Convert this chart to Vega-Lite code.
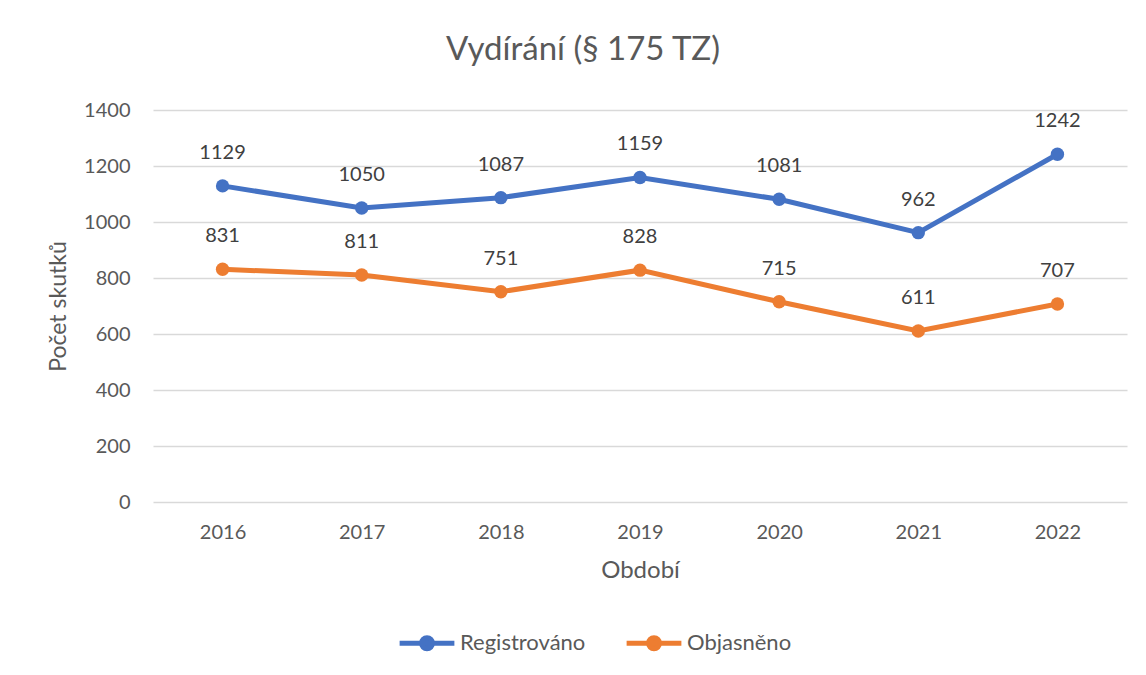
{
  "$schema": "https://vega.github.io/schema/vega-lite/v6.json",
  "width": 974,
  "height": 392,
  "autosize": {"type": "none"},
  "padding": {"left": 153, "top": 110, "right": 19, "bottom": 173},
  "background": "white",
  "title": {
    "text": "Vydírání (§ 175 TZ)",
    "anchor": "middle",
    "frame": "group",
    "offset": 33,
    "dx": -57,
    "fontSize": 33,
    "font": "Lato",
    "fontWeight": "normal",
    "color": "#595959"
  },
  "data": {
    "values": [
      {"rok": "2016", "serie": "Registrováno", "pocet": 1129},
      {"rok": "2017", "serie": "Registrováno", "pocet": 1050},
      {"rok": "2018", "serie": "Registrováno", "pocet": 1087},
      {"rok": "2019", "serie": "Registrováno", "pocet": 1159},
      {"rok": "2020", "serie": "Registrováno", "pocet": 1081},
      {"rok": "2021", "serie": "Registrováno", "pocet": 962},
      {"rok": "2022", "serie": "Registrováno", "pocet": 1242},
      {"rok": "2016", "serie": "Objasněno", "pocet": 831},
      {"rok": "2017", "serie": "Objasněno", "pocet": 811},
      {"rok": "2018", "serie": "Objasněno", "pocet": 751},
      {"rok": "2019", "serie": "Objasněno", "pocet": 828},
      {"rok": "2020", "serie": "Objasněno", "pocet": 715},
      {"rok": "2021", "serie": "Objasněno", "pocet": 611},
      {"rok": "2022", "serie": "Objasněno", "pocet": 707}
    ]
  },
  "encoding": {
    "x": {
      "field": "rok",
      "type": "ordinal",
      "scale": {"paddingInner": 0, "paddingOuter": 0.5},
      "axis": {
        "title": "Období",
        "labelAngle": 0,
        "labelFontSize": 20,
        "labelFont": "Lato",
        "labelColor": "#595959",
        "labelPadding": 20,
        "titleFontSize": 24,
        "titleFont": "Lato",
        "titleFontWeight": "normal",
        "titleColor": "#595959",
        "titlePadding": 16,
        "domain": false,
        "ticks": false,
        "grid": false
      }
    },
    "y": {
      "field": "pocet",
      "type": "quantitative",
      "scale": {"domain": [0, 1400], "nice": false},
      "axis": {
        "title": "Počet skutků",
        "format": "d",
        "values": [0, 200, 400, 600, 800, 1000, 1200, 1400],
        "labelFontSize": 20,
        "labelFont": "Lato",
        "labelColor": "#595959",
        "labelPadding": 23,
        "titleFontSize": 23,
        "titleFont": "Lato",
        "titleFontWeight": "normal",
        "titleColor": "#595959",
        "titlePadding": 13,
        "domain": false,
        "ticks": false,
        "grid": true,
        "gridColor": "#d9d9d9",
        "gridWidth": 1.5
      }
    },
    "color": {
      "field": "serie",
      "type": "nominal",
      "sort": ["Registrováno", "Objasněno"],
      "scale": {"domain": ["Registrováno", "Objasněno"], "range": ["#4472C4", "#ED7D31"]},
      "legend": {
        "title": null,
        "orient": "none",
        "direction": "horizontal",
        "legendX": 244,
        "legendY": 503,
        "symbolType": "M-1,0H1M-0.2,0A0.2,0.2,0,1,0,0.2,0A0.2,0.2,0,1,0,-0.2,0Z",
        "symbolSize": 3000,
        "symbolStrokeWidth": 5,
        "symbolOpacity": 1,
        "labelFontSize": 22,
        "labelFont": "Lato",
        "labelColor": "#595959",
        "labelOffset": 3,
        "columnPadding": 30,
        "encode": {
          "symbols": {"update": {"fill": {"scale": "color", "field": "value"}, "stroke": {"scale": "color", "field": "value"}}}
        }
      }
    }
  },
  "layer": [
    {
      "mark": {"type": "line", "strokeWidth": 5, "point": {"filled": true, "size": 180}}
    },
    {
      "mark": {"type": "text", "dy": -33, "fontSize": 20, "font": "Lato", "color": "#404040"},
      "encoding": {
        "text": {"field": "pocet", "type": "quantitative", "format": "d"},
        "color": {"value": "#404040"}
      }
    }
  ],
  "config": {"view": {"stroke": null}}
}
